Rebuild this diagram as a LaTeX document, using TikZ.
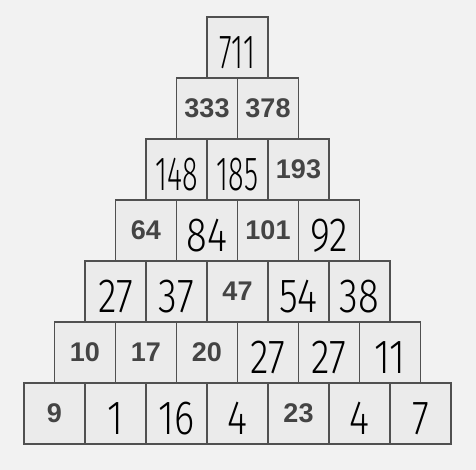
\documentclass[tikz,border=0pt]{standalone}
\usepackage{fontspec}
\setmainfont{Liberation Sans}
\newfontfamily\hwfont{Fira Sans Light}
\definecolor{paper}{HTML}{F2F2F2}
\definecolor{cell}{HTML}{EBEBEB}
\definecolor{rule}{HTML}{505050}
\definecolor{print}{HTML}{444444}
\newcommand{\pr}[1]{{\color{print}\bfseries\fontsize{27}{27}\selectfont #1}}
\newcommand{\hw}[1]{\raisebox{-5pt}[\height][\depth]{\color{black}\hwfont\fontsize{48}{48}\selectfont\scalebox{0.8}[1]{#1}}}
\newcommand{\hwn}[1]{\raisebox{-5pt}[\height][\depth]{\color{black}\hwfont\fontsize{48}{48}\selectfont\scalebox{0.6}[1]{#1}}}
\tikzset{
  cellbox/.style={draw=rule, fill=cell, line width=1.2pt, minimum width=61pt, minimum height=61pt, inner sep=0pt, anchor=center}
}
\begin{document}
\begin{tikzpicture}[x=1pt,y=-1pt]
\fill[paper] (0,0) rectangle (476,470);
\useasboundingbox (0,0) rectangle (476,470);
\foreach \r/\c/\t in {
  1/1/\hwn{711},
  2/1/\pr{333}, 2/2/\pr{378},
  3/1/\hwn{148}, 3/2/\hwn{185}, 3/3/\pr{193},
  4/1/\pr{64}, 4/2/\hw{84}, 4/3/\pr{101}, 4/4/\hw{92},
  5/1/\hw{27}, 5/2/\hw{37}, 5/3/\pr{47}, 5/4/\hw{54}, 5/5/\hw{38},
  6/1/\pr{10}, 6/2/\pr{17}, 6/3/\pr{20}, 6/4/\hw{27}, 6/5/\hw{27}, 6/6/\hw{11},
  7/1/\pr{9}, 7/2/\hw{1}, 7/3/\hw{16}, 7/4/\hw{4}, 7/5/\pr{23}, 7/6/\hw{4}, 7/7/\hw{7}}
{
  \pgfmathsetmacro{\cx}{237.5 - \r*30.5 + (\c-0.5)*61}
  \pgfmathsetmacro{\cy}{17 + (\r-1)*61 + 30.5}
  \node[cellbox] (b-\r-\c) at (\cx,\cy) {\t};
}
\end{tikzpicture}
\end{document}
